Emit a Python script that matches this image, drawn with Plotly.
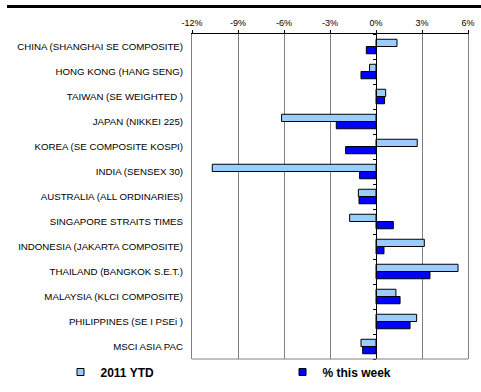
import plotly.graph_objects as go

categories = [
    "CHINA (SHANGHAI SE COMPOSITE)",
    "HONG KONG (HANG SENG)",
    "TAIWAN (SE WEIGHTED )",
    "JAPAN (NIKKEI 225)",
    "KOREA (SE COMPOSITE KOSPI)",
    "INDIA (SENSEX 30)",
    "AUSTRALIA (ALL ORDINARIES)",
    "SINGAPORE STRAITS TIMES",
    "INDONESIA (JAKARTA COMPOSITE)",
    "THAILAND (BANGKOK S.E.T.)",
    "MALAYSIA (KLCI COMPOSITE)",
    "PHILIPPINES (SE I PSEi )",
    "MSCI ASIA PAC",
]
ytd_2011 = [1.37, -0.42, 0.63, -6.16, 2.69, -10.68, -1.15, -1.72, 3.15, 5.35, 1.30, 2.65, -0.98]
this_week = [-0.63, -0.98, 0.56, -2.59, -1.98, -1.07, -1.11, 1.13, 0.52, 3.52, 1.57, 2.22, -0.87]

x_tickvals = [-12, -9, -6, -3, 0, 3, 6]
x_ticktext = ["-12%", "-9%", "-6%", "-3%", "0%", "3%", "6%"]
series_names = ["2011 YTD", "% this week"]

FONT = "Liberation Sans, Arial, sans-serif"
C_YTD = "#99CCFF"
C_WEEK = "#0000FF"
W, H = 481, 392

fig = go.Figure()
fig.add_trace(go.Bar(y=categories, x=ytd_2011, orientation="h", name=series_names[0],
                     marker=dict(color=C_YTD, line=dict(color="#000000", width=1)),
                     showlegend=False))
fig.add_trace(go.Bar(y=categories, x=this_week, orientation="h", name=series_names[1],
                     marker=dict(color=C_WEEK, line=dict(color="#000000", width=1)),
                     showlegend=False))
# legend entries
fig.add_trace(go.Scatter(x=[None], y=[None], mode="markers",
                         name="<b>" + series_names[0] + "</b>",
                         marker=dict(symbol="square", size=7, color=C_YTD,
                                     line=dict(color="#000000", width=1)),
                         legend="legend"))
fig.add_trace(go.Scatter(x=[None], y=[None], mode="markers",
                         name="<b>" + series_names[1] + "</b>",
                         marker=dict(symbol="square", size=7, color=C_WEEK,
                                     line=dict(color="#000000", width=1)),
                         legend="legend2"))
# carrier trace for the category axis drawn at 0
fig.add_trace(go.Scatter(x=[None], y=[None], yaxis="y2", showlegend=False, hoverinfo="skip"))

n = len(categories)
boundaries = [i - 0.5 for i in range(n + 1)]

leg_common = dict(xref="container", yref="container", xanchor="left", yanchor="middle",
                  orientation="h", font=dict(size=12, family=FONT, color="#000000"),
                  bgcolor="rgba(0,0,0,0)")

fig.update_layout(
    width=W, height=H,
    margin=dict(l=192, r=13, t=34, b=33, autoexpand=False),
    paper_bgcolor="white", plot_bgcolor="white",
    font=dict(family=FONT, size=10, color="#000000"),
    barmode="group", bargap=0.42, bargroupgap=0,
    xaxis=dict(side="top", range=[-12, 6], tickvals=x_tickvals, ticktext=x_ticktext,
               showgrid=True, gridcolor="#808080", gridwidth=1, zeroline=False,
               showline=True, linecolor="#000000", linewidth=1,
               ticks="outside", ticklen=3, tickcolor="#000000",
               tickfont=dict(size=9, family=FONT), fixedrange=True),
    yaxis=dict(range=[n - 0.5, -0.5], showgrid=False, zeroline=False,
               showline=True, linecolor="#808080", linewidth=1, mirror=True,
               ticks="", ticklabelstandoff=6,
               tickfont=dict(size=9.7, family=FONT)),
    yaxis2=dict(overlaying="y", anchor="free", position=12 / 18, side="left",
                range=[n - 0.5, -0.5], tickvals=boundaries, ticks="outside",
                ticklen=3, tickcolor="#000000", showticklabels=False,
                showgrid=False, zeroline=False, showline=True,
                linecolor="#000000", linewidth=1),
    legend=dict(x=(100.5 - 40) / W, y=1 - 372 / H, **leg_common),
    legend2=dict(x=(322.5 - 40) / W, y=1 - 372 / H, **leg_common),
    shapes=[
        dict(type="line", xref="paper", yref="paper", x0=0, x1=1, y0=0, y1=0,
             line=dict(color="#808080", width=1)),
        dict(type="line", xref="paper", yref="paper",
             x0=(7 - 192) / 276, x1=(481 - 192) / 276,
             y0=(359 - 6.5) / 325, y1=(359 - 6.5) / 325,
             line=dict(color="#000000", width=3)),
    ],
)

fig.write_html("out.html")
